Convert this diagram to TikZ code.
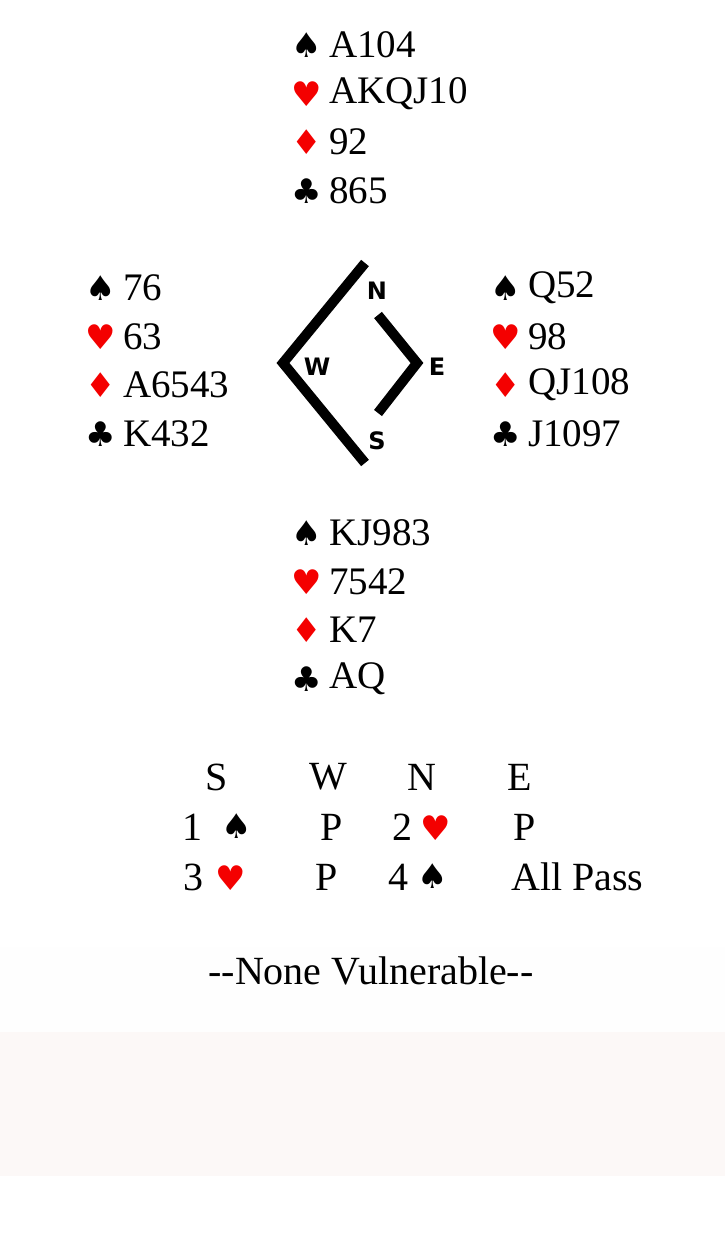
\documentclass[tikz,border=0pt]{standalone}
\usepackage{fontspec}
\setmainfont{Liberation Serif}
\newfontfamily\suitfont{DejaVu Sans}
\newfontfamily\compassfont{DejaVu Sans}
\usetikzlibrary{positioning}
\definecolor{suitred}{HTML}{F40000}
\definecolor{bandpink}{HTML}{FCF8F7}
\definecolor{bandgrey}{HTML}{FEFEFE}
\newcommand{\spd}{\symbol{"2660}}
\newcommand{\hrt}{\symbol{"2665}}
\newcommand{\dia}{\symbol{"2666}}
\newcommand{\clb}{\symbol{"2663}}

\begin{document}
\begin{tikzpicture}[x=1pt, y=-1pt,
  cards/.style={anchor=west, inner sep=0pt, font=\fontsize{39}{42}\selectfont},
  suit/.style={inner sep=0pt, font=\suitfont\fontsize{34}{36}\selectfont},
  redsuit/.style={suit, text=suitred},
  bid/.style={inner sep=0pt, font=\fontsize{40}{42}\selectfont},
  dir/.style={inner sep=0pt, font=\compassfont\bfseries\fontsize{24}{26}\selectfont},
  compass/.style={line width=10pt, line join=miter}]
  \useasboundingbox (0,0) rectangle (725,1258);
  % ---- background bands ----
  \fill[bandgrey] (0,947) rectangle (725,1032);
  \fill[bandpink] (0,1032) rectangle (725,1176);
  % ---- the four hands ----
  \foreach \hnd/\x/\y/\cs/\ch/\cd/\cc in {
      n/307/45/A104/AKQJ10/92/865,
      w/101/288/76/63/A6543/K432,
      e/506/288/Q52/98/QJ108/J1097,
      s/307/533/KJ983/7542/K7/AQ} {
    \node[suit] (\hnd sp) at (\x,\y) {\spd};
    \node[redsuit] (\hnd he) at (\x,\y+49) {\hrt};
    \node[redsuit] (\hnd di) at (\x,\y+97) {\dia};
    \node[suit] (\hnd cl) at (\x,\y+146) {\clb};
    \node[cards] (\hnd spt) at (\x+22,\y) {\cs};
    \node[cards] (\hnd het) at (\x+22,\y+49) {\ch};
    \node[cards] (\hnd dit) at (\x+22,\y+97) {\cd};
    \node[cards] (\hnd clt) at (\x+22,\y+146) {\cc};
  }
  % ---- compass ----
  \draw[compass] (365,263) -- (283,363) -- (365,463);
  \draw[compass] (378,315) -- (417,363) -- (378,413);
  \node[dir] (cn) at (377,291) {N};
  \node[dir] (cw) at (317,367) {W};
  \node[dir] (ce) at (437,367) {E};
  \node[dir] (cs) at (377,441) {S};
  % ---- auction ----
  \foreach \b/\x in {S/217, W/328, N/422, E/520} { \node[bid] (h\b) at (\x,777) {\b}; }
  \node[bid] (b1) at (192,827) {1};
  \node[suit] (b1s) at (237,826) {\spd};
  \node[bid] (b2) at (332,827) {P};
  \node[bid] (b3) at (402,827) {2};
  \node[redsuit] (b3s) at (436,828) {\hrt};
  \node[bid] (b4) at (525,827) {P};
  \node[bid] (b5) at (193,877) {3};
  \node[redsuit] (b5s) at (231,878) {\hrt};
  \node[bid] (b6) at (327,877) {P};
  \node[bid] (b7) at (398,877) {4};
  \node[suit] (b7s) at (433,876) {\spd};
  \node[bid, anchor=west] (b8) at (511,877) {All Pass};
  % ---- vulnerability ----
  \node[bid] (vul) at (371,971) {-{}-None Vulnerable-{}-};
\end{tikzpicture}
\end{document}
